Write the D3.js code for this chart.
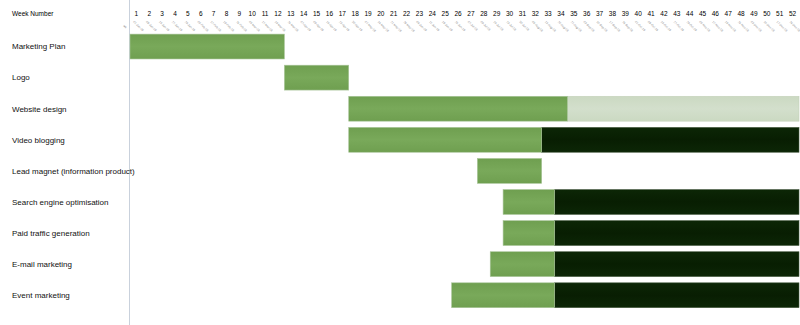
<!DOCTYPE html>
<html lang="en">
<head>
    <meta charset="UTF-8">
    <title>Marketing Gantt</title>
    <script src="https://d3js.org/d3.v7.min.js"></script>
    <style>
        body { margin: 0; background: #fff; font-family: "Liberation Sans", Arial, sans-serif; }
    </style>
</head>
<body>
    <div class="chart"></div>
    <script>
        // data
        const tasks = ['Marketing Plan', 'Logo', 'Website design', 'Video blogging',
            'Lead magnet (information product)', 'Search engine optimisation',
            'Paid traffic generation', 'E-mail marketing', 'Event marketing'];
        const startWeek = [1, 13, 18, 18, 28, 30, 30, 29, 26];
        const endWeek = [12, 17, 34, 32, 32, 33, 33, 33, 33];
        const ongoingEnd = [null, null, 52, 52, null, 52, 52, 52, 52];
        const ongoingType = [null, null, 'light', 'dark', null, 'dark', 'dark', 'dark', 'dark'];
        const weeks = d3.range(1, 53);
        const firstMonday = new Date(2018, 0, 1);

        const W = 800, H = 325;
        const svg = d3.select('.chart').append('svg')
            .attr('width', W).attr('height', H);

        const defs = svg.append('defs');
        function grad(id, c1, c2) {
            let g = defs.append('linearGradient').attr('id', id)
                .attr('x1', 0).attr('y1', 0).attr('x2', 0).attr('y2', 1);
            g.append('stop').attr('offset', '0%').attr('stop-color', c1);
            g.append('stop').attr('offset', '50%').attr('stop-color', c2);
            g.append('stop').attr('offset', '100%').attr('stop-color', c1);
        }
        grad('gGreen', '#6f9f50', '#79a95a');
        grad('gLight', '#cbd9c2', '#d3dfcc');
        grad('gDark', '#0c2606', '#081e02');

        const x = d3.scaleBand().domain(weeks).range([130, 799]);
        const y = d3.scaleBand().domain(tasks).range([31, 310.8]).paddingInner(0.2).paddingOuter(0.1);

        // separator line
        svg.append('line')
            .attr('x1', 129.5).attr('x2', 129.5).attr('y1', 0).attr('y2', H)
            .attr('stroke', '#c9d1dc').attr('stroke-width', 1);

        // header
        svg.append('text').attr('x', 12).attr('y', 16)
            .attr('font-size', 6.5).attr('fill', '#000')
            .text('Week Number');

        svg.selectAll('.wk').data(weeks).enter().append('text')
            .attr('class', 'wk')
            .attr('x', d => x(d) + x.bandwidth() / 2)
            .attr('y', 16)
            .attr('text-anchor', 'middle')
            .attr('font-size', 6.5).attr('fill', '#000')
            .text(d => d);

        const fmt = d3.timeFormat('%d-%b-%y');
        svg.selectAll('.dt').data(weeks).enter().append('text')
            .attr('class', 'dt')
            .attr('transform', d => 'translate(' + (x(d) + 3) + ',22) rotate(45)')
            .attr('font-size', 3).attr('fill', '#888')
            .text(d => fmt(d3.timeWeek.offset(firstMonday, d - 1)));
        svg.append('text')
            .attr('transform', 'translate(123,26) rotate(45)')
            .attr('font-size', 3).attr('fill', '#888')
            .text('wk');

        // row labels
        svg.selectAll('.lbl').data(tasks).enter().append('text')
            .attr('class', 'lbl')
            .attr('x', 12)
            .attr('y', d => y(d) + y.bandwidth() / 2)
            .attr('dy', '0.35em')
            .attr('font-size', 8).attr('fill', '#111')
            .text(d => d);

        // ongoing bars
        const ong = tasks.map((t, i) => ({t, s: endWeek[i] + 1, e: ongoingEnd[i], type: ongoingType[i]}))
            .filter(d => d.e);
        svg.selectAll('.ong').data(ong).enter().append('rect')
            .attr('class', 'ong')
            .attr('x', d => x(d.s))
            .attr('width', d => x(d.e) + x.bandwidth() - x(d.s))
            .attr('y', d => y(d.t))
            .attr('height', y.bandwidth())
            .attr('fill', d => d.type == 'dark' ? 'url(#gDark)' : 'url(#gLight)')
            .attr('stroke', d => d.type == 'dark' ? '#4a5e44' : '#c3d1ba')
            .attr('stroke-width', 0.6);

        // main bars
        const bars = tasks.map((t, i) => ({t, s: startWeek[i], e: endWeek[i]}));
        svg.selectAll('.bar').data(bars).enter().append('rect')
            .attr('class', 'bar')
            .attr('x', d => x(d.s))
            .attr('width', d => x(d.e) + x.bandwidth() - x(d.s))
            .attr('y', d => y(d.t))
            .attr('height', y.bandwidth())
            .attr('fill', 'url(#gGreen)')
            .attr('stroke', '#a9c59a')
            .attr('stroke-width', 0.6);
    </script>
</body>
</html>
